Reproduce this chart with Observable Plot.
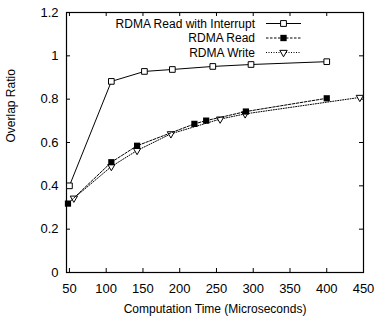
<!DOCTYPE html>
<html>
<head>
<meta charset="utf-8">
<script src="https://cdn.jsdelivr.net/npm/d3@7"></script>
<script src="https://cdn.jsdelivr.net/npm/@observablehq/plot@0.6"></script>
<style>
  html, body { margin: 0; padding: 0; background: #fff; }
  #chart svg { display: block; font-family: "Liberation Sans", Arial, Helvetica, sans-serif; }
</style>
</head>
<body>
<div id="chart"></div>
<script>
// ---- data ----
const seriesNames = ["RDMA Read with Interrupt", "RDMA Read", "RDMA Write"];

const interruptX = [50, 107, 152, 190, 245, 297, 400];
const interruptY = [0.40, 0.882, 0.928, 0.937, 0.951, 0.960, 0.973];

const readX = [48, 107, 142, 220, 236, 290, 400];
const readY = [0.318, 0.509, 0.585, 0.686, 0.701, 0.743, 0.804];

const writeX = [56, 107, 142, 188, 255, 289, 445];
const writeY = [0.343, 0.489, 0.563, 0.640, 0.708, 0.732, 0.808];

const xTicks = [50, 100, 150, 200, 250, 300, 350, 400, 450];
const xTickLabels = ["50", "100", "150", "200", "250", "300", "350", "400", "450"];
const yTicks = [0, 0.2, 0.4, 0.6, 0.8, 1.0, 1.2];
const yTickLabels = ["0", "0.2", "0.4", "0.6", "0.8", "1", "1.2"];

const xLabel = "Computation Time (Microseconds)";
const yLabel = "Overlap Ratio";

// ---- build tables ----
const toRows = (xs, ys) => xs.map((x, i) => ({x, y: ys[i]}));
const interrupt = toRows(interruptX, interruptY);
const read = toRows(readX, readY);
const write = toRows(writeX, writeY);

const W = 376, H = 325;
const mL = 66, mR = 13, mT = 12, mB = 53;
const plotW = W - mL - mR, plotH = H - mT - mB;
const tickLen = 4;
const fs = 12;
const tfs = 13;

const chart = Plot.plot({
  width: W,
  height: H,
  marginLeft: mL,
  marginRight: mR,
  marginTop: mT,
  marginBottom: mB,
  style: {fontSize: fs + "px", fontFamily: "'Liberation Sans', Arial, Helvetica, sans-serif", color: "#000"},
  x: {domain: [46, 450]},
  y: {domain: [0, 1.2]},
  marks: [
    // tick labels
    Plot.axisX({ticks: xTicks, tickSize: 0, tickPadding: 11.5, tickFormat: (d, i) => xTickLabels[i], label: null, fontSize: tfs}),
    Plot.axisY({ticks: yTicks, tickSize: 0, tickPadding: 8, tickFormat: (d, i) => yTickLabels[i], label: null, fontSize: tfs}),
    // inward ticks on all four sides
    Plot.tickX(xTicks, {x: d => d, insetTop: plotH - tickLen, stroke: "#000"}),
    Plot.tickX(xTicks, {x: d => d, insetBottom: plotH - tickLen, stroke: "#000"}),
    Plot.tickY(yTicks, {y: d => d, insetRight: plotW - tickLen, stroke: "#000"}),
    Plot.tickY(yTicks, {y: d => d, insetLeft: plotW - tickLen, stroke: "#000"}),
    Plot.frame({stroke: "#000", strokeWidth: 1.2}),
    // axis titles
    Plot.text([xLabel], {frameAnchor: "bottom", dy: 40, fontSize: fs, fill: "#000"}),
    Plot.text([yLabel], {frameAnchor: "left", rotate: -90, dx: -55, fontSize: fs, fill: "#000"}),
    // series
    Plot.line(write, {x: "x", y: "y", stroke: "#000", strokeWidth: 1, strokeDasharray: "1,1.5"}),
    Plot.dot(write, {x: "x", y: "y", symbol: "triangle", rotate: 180, r: 2.7, stroke: "#000", fill: "#fff", strokeWidth: 1}),
    Plot.line(read, {x: "x", y: "y", stroke: "#000", strokeWidth: 1, strokeDasharray: "2.5,1.5"}),
    Plot.dot(read, {x: "x", y: "y", symbol: "square", r: 3.5, fill: "#000", stroke: "none"}),
    Plot.line(interrupt, {x: "x", y: "y", stroke: "#000", strokeWidth: 1}),
    Plot.dot(interrupt, {x: "x", y: "y", symbol: "square", r: 3.2, stroke: "#000", fill: "#fff", strokeWidth: 1})
  ]
});

// ---- legend (drawn into the same svg) ----
const svg = d3.select(chart);
const lg = svg.append("g").attr("font-size", fs).attr("font-family", "'Liberation Sans', Arial, Helvetica, sans-serif");
const legendItems = [
  {name: seriesNames[0], dash: null, sym: d3.symbolSquare, size: 34, fill: "#fff", stroke: "#000", rot: 0},
  {name: seriesNames[1], dash: "2.5,1.5", sym: d3.symbolSquare, size: 40, fill: "#000", stroke: "none", rot: 0},
  {name: seriesNames[2], dash: "1,1.5", sym: d3.symbolTriangle, size: 24, fill: "#fff", stroke: "#000", rot: 180}
];
const textRight = 255, lineX1 = 266, lineX2 = 301, row0 = 23.5, rowGap = 14.5;
legendItems.forEach((it, i) => {
  const y = row0 + i * rowGap;
  lg.append("text").attr("x", textRight).attr("y", y).attr("dy", "0.35em")
    .attr("text-anchor", "end").attr("fill", "#000").text(it.name);
  lg.append("line").attr("x1", lineX1).attr("x2", lineX2).attr("y1", y).attr("y2", y)
    .attr("stroke", "#000").attr("stroke-width", 1).attr("stroke-dasharray", it.dash);
  lg.append("path").attr("d", d3.symbol(it.sym, it.size)())
    .attr("transform", `translate(${(lineX1 + lineX2) / 2},${y}) rotate(${it.rot})`)
    .attr("fill", it.fill).attr("stroke", it.stroke).attr("stroke-width", 1);
});

document.getElementById("chart").appendChild(chart);
</script>
</body>
</html>
